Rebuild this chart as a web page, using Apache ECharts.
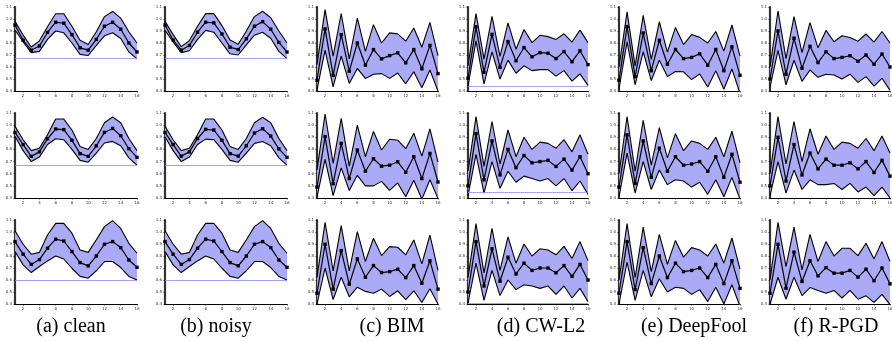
<!DOCTYPE html>
<html><head><meta charset="utf-8">
<script src="https://cdn.jsdelivr.net/npm/echarts@6/dist/echarts.min.js"></script>
<style>html,body{margin:0;padding:0;background:#fff}#c{width:892px;height:341px}</style>
</head><body><div id="c"></div>
<script>
// ---------- data ----------
const xCats = ['1','2','3','4','5','6','7','8','9','10','11','12','13','14','15','16'];
const captions = ['(a) clean','(b) noisy','(c) BIM','(d) CW-L2','(e) DeepFool','(f) R-PGD'];

// clean
const clean_r1_mean = [0.95,0.823,0.74,0.775,0.888,0.973,0.965,0.87,0.76,0.74,0.83,0.94,0.973,0.915,0.80,0.725];
const clean_r1_up   = [0.98,0.866,0.767,0.818,0.936,1.044,1.044,0.94,0.823,0.787,0.894,1.02,1.063,1.007,0.894,0.80];
const clean_r1_lo   = [0.908,0.81,0.72,0.73,0.83,0.90,0.885,0.80,0.705,0.696,0.78,0.86,0.885,0.837,0.725,0.668];
const clean_r2_mean = [0.94,0.84,0.743,0.78,0.888,0.968,0.963,0.875,0.765,0.743,0.83,0.94,0.973,0.913,0.806,0.735];
const clean_r2_up   = [0.99,0.88,0.79,0.81,0.92,1.05,1.05,0.96,0.825,0.80,0.89,1.02,1.067,1.02,0.89,0.79];
const clean_r2_lo   = [0.908,0.79,0.70,0.737,0.84,0.888,0.88,0.80,0.71,0.695,0.77,0.853,0.866,0.83,0.73,0.67];
const clean_r3_mean = [0.92,0.815,0.73,0.77,0.865,0.94,0.925,0.837,0.745,0.718,0.80,0.898,0.92,0.87,0.767,0.706];
const clean_r3_up   = [1.01,0.898,0.815,0.83,0.975,1.072,1.072,0.99,0.85,0.83,0.935,1.045,1.095,1.03,0.906,0.823];
const clean_r3_lo   = [0.837,0.726,0.662,0.712,0.759,0.80,0.775,0.698,0.63,0.615,0.677,0.754,0.754,0.704,0.63,0.60];
// noisy
const noisy_r1_mean = [0.95,0.825,0.74,0.78,0.89,0.973,0.968,0.875,0.765,0.745,0.835,0.94,0.978,0.915,0.805,0.725];
const noisy_r1_up   = [0.98,0.87,0.77,0.82,0.94,1.045,1.045,0.945,0.825,0.79,0.90,1.02,1.065,1.01,0.90,0.80];
const noisy_r1_lo   = [0.905,0.81,0.72,0.735,0.83,0.905,0.89,0.80,0.71,0.70,0.785,0.865,0.89,0.84,0.73,0.67];
const noisy_r2_mean = [0.94,0.84,0.745,0.78,0.89,0.965,0.96,0.875,0.765,0.745,0.83,0.935,0.97,0.91,0.805,0.735];
const noisy_r2_up   = [0.99,0.88,0.79,0.81,0.92,1.05,1.05,0.96,0.825,0.80,0.89,1.02,1.065,1.02,0.89,0.79];
const noisy_r2_lo   = [0.905,0.79,0.70,0.737,0.84,0.885,0.88,0.80,0.71,0.695,0.77,0.85,0.865,0.83,0.73,0.67];
const noisy_r3_mean = [0.92,0.815,0.73,0.77,0.865,0.94,0.925,0.837,0.745,0.718,0.80,0.898,0.92,0.87,0.767,0.706];
const noisy_r3_up   = [1.01,0.898,0.815,0.83,0.975,1.072,1.072,0.99,0.85,0.83,0.935,1.045,1.095,1.03,0.906,0.823];
const noisy_r3_lo   = [0.837,0.726,0.662,0.712,0.759,0.80,0.775,0.698,0.63,0.615,0.677,0.754,0.754,0.704,0.63,0.60];
// BIM
const bim_r1_mean = [0.49,0.917,0.53,0.87,0.565,0.80,0.615,0.745,0.668,0.695,0.718,0.635,0.745,0.585,0.78,0.545];
const bim_r1_up   = [0.62,1.078,0.69,1.045,0.668,1.008,0.73,0.953,0.80,0.884,0.876,0.815,0.925,0.765,0.972,0.695];
const bim_r1_lo   = [0.41,0.74,0.435,0.69,0.463,0.588,0.505,0.54,0.545,0.505,0.55,0.46,0.56,0.427,0.575,0.40];
const bim_r2_mean = [0.49,0.906,0.518,0.85,0.56,0.795,0.62,0.723,0.662,0.67,0.698,0.612,0.74,0.56,0.767,0.532];
const bim_r2_up   = [0.63,1.092,0.685,1.056,0.662,1.0,0.74,0.948,0.795,0.884,0.876,0.806,0.934,0.745,0.97,0.695];
const bim_r2_lo   = [0.41,0.718,0.42,0.648,0.462,0.587,0.50,0.50,0.537,0.462,0.524,0.41,0.546,0.39,0.55,0.395];
const bim_r3_mean = [0.49,0.898,0.524,0.845,0.565,0.776,0.623,0.72,0.662,0.67,0.69,0.62,0.72,0.573,0.76,0.524];
const bim_r3_up   = [0.62,1.08,0.676,1.053,0.676,1.003,0.754,0.948,0.803,0.878,0.873,0.81,0.934,0.734,0.975,0.68];
const bim_r3_lo   = [0.40,0.70,0.437,0.623,0.46,0.54,0.505,0.49,0.524,0.463,0.51,0.437,0.51,0.413,0.527,0.40];
// CW-L2
const cw_r1_mean = [0.507,0.935,0.556,0.872,0.597,0.812,0.652,0.762,0.685,0.72,0.715,0.67,0.729,0.644,0.735,0.62];
const cw_r1_up   = [0.61,1.045,0.666,1.023,0.688,0.968,0.748,0.913,0.803,0.864,0.853,0.83,0.877,0.808,0.907,0.803];
const cw_r1_lo   = [0.44,0.817,0.46,0.726,0.50,0.657,0.548,0.61,0.57,0.578,0.578,0.524,0.57,0.482,0.543,0.447];
const cw_r2_mean = [0.50,0.93,0.55,0.87,0.59,0.80,0.65,0.75,0.69,0.70,0.71,0.66,0.72,0.63,0.74,0.60];
const cw_r2_up   = [0.62,1.07,0.66,1.03,0.68,0.96,0.74,0.90,0.80,0.86,0.85,0.81,0.88,0.78,0.92,0.76];
const cw_r2_lo   = [0.42,0.76,0.44,0.70,0.48,0.62,0.53,0.58,0.56,0.54,0.56,0.50,0.56,0.46,0.54,0.43];
const cw_r3_mean = [0.50,0.92,0.55,0.86,0.59,0.79,0.65,0.74,0.68,0.70,0.70,0.66,0.72,0.63,0.73,0.60];
const cw_r3_up   = [0.62,1.07,0.66,1.03,0.68,0.96,0.74,0.90,0.80,0.86,0.85,0.81,0.88,0.78,0.92,0.76];
const cw_r3_lo   = [0.41,0.74,0.43,0.68,0.47,0.60,0.52,0.56,0.55,0.53,0.55,0.48,0.55,0.45,0.53,0.42];
// DeepFool
const df_r1_mean = [0.49,0.937,0.52,0.883,0.569,0.823,0.623,0.746,0.67,0.68,0.71,0.615,0.746,0.569,0.768,0.53];
const df_r1_up   = [0.60,1.06,0.61,1.03,0.664,0.977,0.724,0.93,0.787,0.87,0.847,0.80,0.896,0.732,0.95,0.69];
const df_r1_lo   = [0.42,0.81,0.452,0.727,0.487,0.656,0.52,0.563,0.56,0.495,0.542,0.433,0.569,0.414,0.583,0.38];
const df_r2_mean = [0.49,0.92,0.52,0.87,0.57,0.81,0.62,0.74,0.67,0.68,0.70,0.62,0.74,0.57,0.76,0.53];
const df_r2_up   = [0.60,1.07,0.62,1.04,0.67,0.98,0.73,0.93,0.79,0.87,0.85,0.80,0.90,0.74,0.95,0.69];
const df_r2_lo   = [0.41,0.77,0.44,0.70,0.47,0.63,0.51,0.55,0.54,0.49,0.53,0.43,0.55,0.41,0.57,0.39];
const df_r3_mean = [0.49,0.92,0.52,0.87,0.57,0.80,0.62,0.74,0.67,0.68,0.70,0.62,0.73,0.57,0.76,0.53];
const df_r3_up   = [0.60,1.07,0.62,1.04,0.67,0.98,0.73,0.93,0.79,0.87,0.85,0.80,0.90,0.74,0.95,0.69];
const df_r3_lo   = [0.40,0.75,0.43,0.68,0.46,0.61,0.50,0.54,0.53,0.48,0.52,0.42,0.54,0.40,0.56,0.38];
// R-PGD
const pgd_r1_mean = [0.50,0.90,0.54,0.84,0.59,0.772,0.637,0.727,0.67,0.68,0.694,0.648,0.70,0.623,0.708,0.60];
const pgd_r1_up   = [0.60,1.067,0.67,1.02,0.72,0.97,0.76,0.905,0.81,0.86,0.846,0.815,0.875,0.807,0.896,0.80];
const pgd_r1_lo   = [0.433,0.738,0.452,0.656,0.48,0.575,0.514,0.54,0.533,0.50,0.54,0.472,0.52,0.44,0.506,0.405];
const pgd_r2_mean = [0.50,0.90,0.54,0.84,0.59,0.77,0.64,0.72,0.67,0.67,0.69,0.64,0.70,0.61,0.71,0.58];
const pgd_r2_up   = [0.60,1.07,0.68,1.03,0.70,0.97,0.76,0.91,0.80,0.86,0.85,0.81,0.89,0.79,0.91,0.77];
const pgd_r2_lo   = [0.42,0.70,0.44,0.63,0.47,0.55,0.51,0.51,0.52,0.47,0.52,0.45,0.49,0.42,0.49,0.40];
const pgd_r3_mean = [0.49,0.898,0.532,0.832,0.588,0.76,0.635,0.703,0.657,0.657,0.68,0.624,0.69,0.594,0.70,0.568];
const pgd_r3_up   = [0.60,1.08,0.712,1.04,0.684,0.98,0.754,0.92,0.80,0.864,0.864,0.803,0.906,0.776,0.92,0.754];
const pgd_r3_lo   = [0.40,0.623,0.44,0.623,0.47,0.537,0.513,0.49,0.513,0.45,0.513,0.44,0.468,0.413,0.48,0.395];

// horizontal reference levels per panel [row][col] (null = not visible)
const baseline_r1 = [0.665, 0.665, null, 0.44, null, null];
const baseline_r2 = [0.674, 0.674, null, 0.45, null, null];
const baseline_r3 = [0.60, 0.60, null, 0.41, null, null];

// ---------- layout ----------
const colLeft  = [15, 165, 317, 468, 619, 770];
const colRight = [137, 287, 438, 588, 740, 890];
const rowTop   = [7, 113, 220];
const rowBot   = [91, 198, 304];
const capX     = [71, 216, 392, 541, 694, 836];

const panels = [
  [[clean_r1_mean,clean_r1_up,clean_r1_lo],[noisy_r1_mean,noisy_r1_up,noisy_r1_lo],[bim_r1_mean,bim_r1_up,bim_r1_lo],[cw_r1_mean,cw_r1_up,cw_r1_lo],[df_r1_mean,df_r1_up,df_r1_lo],[pgd_r1_mean,pgd_r1_up,pgd_r1_lo]],
  [[clean_r2_mean,clean_r2_up,clean_r2_lo],[noisy_r2_mean,noisy_r2_up,noisy_r2_lo],[bim_r2_mean,bim_r2_up,bim_r2_lo],[cw_r2_mean,cw_r2_up,cw_r2_lo],[df_r2_mean,df_r2_up,df_r2_lo],[pgd_r2_mean,pgd_r2_up,pgd_r2_lo]],
  [[clean_r3_mean,clean_r3_up,clean_r3_lo],[noisy_r3_mean,noisy_r3_up,noisy_r3_lo],[bim_r3_mean,bim_r3_up,bim_r3_lo],[cw_r3_mean,cw_r3_up,cw_r3_lo],[df_r3_mean,df_r3_up,df_r3_lo],[pgd_r3_mean,pgd_r3_up,pgd_r3_lo]]
];
const baselines = [baseline_r1, baseline_r2, baseline_r3];

const grid = [], xAxis = [], yAxis = [], series = [], graphic = [];
const BAND = '#aaaaf6';
let gi = 0;
for (let r = 0; r < 3; r++) {
  for (let c = 0; c < 6; c++) {
    const [mean, up, lo] = panels[r][c];
    grid.push({left: colLeft[c], top: rowTop[r], width: colRight[c]-colLeft[c], height: rowBot[r]-rowTop[r], outerBoundsMode:'none', containLabel:false});
    xAxis.push({type:'category', gridIndex: gi, data: xCats, boundaryGap:false,
      axisLine:{lineStyle:{color:'#000', width:1.2}},
      axisTick:{length:1.5, interval:(i,v)=>(+v)%2===0, lineStyle:{color:'#000', width:0.6}},
      axisLabel:{interval:(i,v)=>(+v)%2===0, fontSize:4, color:'#333', margin:3, fontFamily:'DejaVu Sans'},
      splitLine:{show:false}});
    yAxis.push({type:'value', gridIndex: gi, min:0.4, max:1.1, interval:0.1,
      axisLine:{show:true, lineStyle:{color:'#333', width:2.2}},
      axisTick:{show:true, length:1.5, lineStyle:{color:'#000', width:0.6}},
      axisLabel:{fontSize:4, color:'#333', margin:3, fontFamily:'DejaVu Sans', formatter:v=>v.toFixed(1)},
      splitLine:{show:false}});
    const diff = up.map((u,i)=>+(u-lo[i]).toFixed(4));
    const common = {xAxisIndex: gi, yAxisIndex: gi, silent:true, animation:false, symbol:'none'};
    series.push(Object.assign({type:'line', data: lo, stack:'band'+gi, lineStyle:{opacity:0}, z:1}, common));
    series.push(Object.assign({type:'line', data: diff, stack:'band'+gi, lineStyle:{opacity:0}, areaStyle:{color:BAND, opacity:1}, z:1}, common));
    series.push(Object.assign({type:'line', data: up, lineStyle:{color:'#000', width:1.1}, z:3}, common));
    series.push(Object.assign({type:'line', data: lo, lineStyle:{color:'#000', width:1.1}, z:3}, common));
    const b = baselines[r][c];
    const meanSeries = Object.assign({}, common, {type:'line', data: mean, symbol:'rect', symbolSize:3.4,
      itemStyle:{color:'#000'}, lineStyle:{color:'#000', width:1.2}, z:4});
    if (b !== null) {
      meanSeries.markLine = {silent:true, symbol:'none', label:{show:false}, animation:false,
        lineStyle:{color:'#8c8cff', width:0.8, type:'solid'}, data:[{yAxis:b}]};
    }
    series.push(meanSeries);
    gi++;
  }
}
for (let c = 0; c < 6; c++) {
  graphic.push({type:'text', x: capX[c], y: 327, style:{text: captions[c], textAlign:'center', textVerticalAlign:'middle',
    font:'20px "Liberation Serif"', fill:'#000'}});
}

const chart = echarts.init(document.getElementById('c'), null, {renderer:'canvas'});
chart.setOption({animation:false, grid, xAxis, yAxis, series, graphic});
</script></body></html>
